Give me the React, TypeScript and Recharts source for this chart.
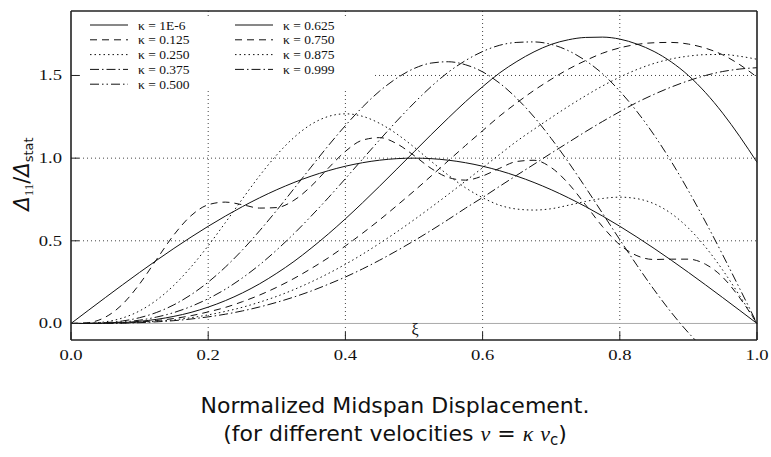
import React from 'react';
import { LineChart, Line, XAxis, YAxis, CartesianGrid, ReferenceLine } from 'recharts';

// load position xi along the span
const XI = [
  0, 0.025, 0.05, 0.075, 0.1, 0.125, 0.15, 0.175, 0.2, 0.225,
  0.25, 0.275, 0.3, 0.325, 0.35, 0.375, 0.4, 0.425, 0.45, 0.475,
  0.5, 0.525, 0.55, 0.575, 0.6, 0.625, 0.65, 0.675, 0.7, 0.725,
  0.75, 0.775, 0.8, 0.825, 0.85, 0.875, 0.9, 0.925, 0.95, 0.975, 1,
];

const K_1E6 = [
  0, 0.0785, 0.1564, 0.2334, 0.309, 0.3827, 0.454, 0.5225, 0.5878, 0.6494,
  0.7071, 0.7604, 0.809, 0.8526, 0.891, 0.9239, 0.9511, 0.9724, 0.9877, 0.9969,
  1, 0.9969, 0.9877, 0.9724, 0.9511, 0.9239, 0.891, 0.8526, 0.809, 0.7604,
  0.7071, 0.6494, 0.5878, 0.5225, 0.454, 0.3827, 0.309, 0.2334, 0.1564, 0.0785, 0,
];

const K_0125 = [
  0, 0.005, 0.038, 0.116, 0.239, 0.389, 0.536, 0.652, 0.718, 0.734,
  0.718, 0.698, 0.701, 0.745, 0.83, 0.939, 1.041, 1.109, 1.124, 1.087,
  1.016, 0.938, 0.883, 0.867, 0.892, 0.939, 0.98, 0.987, 0.943, 0.847,
  0.718, 0.585, 0.476, 0.41, 0.387, 0.389, 0.389, 0.358, 0.28, 0.154, 0,
];

const K_0250 = [
  0, 0.001, 0.01, 0.033, 0.076, 0.142, 0.231, 0.342, 0.47, 0.61,
  0.754, 0.894, 1.02, 1.125, 1.204, 1.252, 1.268, 1.253, 1.21, 1.146,
  1.067, 0.981, 0.897, 0.821, 0.761, 0.715, 0.692, 0.686, 0.694, 0.715,
  0.738, 0.756, 0.764, 0.755, 0.724, 0.665, 0.577, 0.462, 0.323, 0.166, 0,
];

const K_0375 = [
  0, 0.001, 0.005, 0.015, 0.035, 0.067, 0.113, 0.174, 0.25, 0.341,
  0.445, 0.561, 0.685, 0.815, 0.946, 1.075, 1.197, 1.309, 1.406, 1.484,
  1.542, 1.575, 1.583, 1.565, 1.522, 1.453, 1.361, 1.249, 1.119, 0.976,
  0.823, 0.665, 0.507, 0.352, 0.204, 0.067, -0.056, -0.162, null, null, null,
];

const K_0500 = [
  0, 0, 0.003, 0.009, 0.02, 0.039, 0.066, 0.103, 0.15, 0.207,
  0.276, 0.355, 0.445, 0.543, 0.649, 0.76, 0.876, 0.994, 1.111, 1.225,
  1.333, 1.433, 1.52, 1.59, 1.645, 1.683, 1.7, 1.703, 1.688, 1.65,
  1.59, 1.51, 1.405, 1.282, 1.14, 0.98, 0.803, 0.614, 0.415, 0.209, 0,
];

const K_0625 = [
  0, 0, 0.002, 0.005, 0.013, 0.025, 0.043, 0.067, 0.099, 0.138,
  0.185, 0.24, 0.304, 0.375, 0.455, 0.541, 0.633, 0.73, 0.831, 0.934,
  1.038, 1.142, 1.243, 1.341, 1.432, 1.516, 1.585, 1.643, 1.688, 1.716,
  1.73, 1.732, 1.72, 1.69, 1.645, 1.582, 1.5, 1.396, 1.272, 1.13, 0.975,
];

const K_0750 = [
  0, 0, 0.001, 0.004, 0.009, 0.018, 0.03, 0.047, 0.07, 0.097,
  0.132, 0.172, 0.219, 0.272, 0.332, 0.397, 0.469, 0.546, 0.627, 0.713,
  0.801, 0.892, 0.984, 1.076, 1.166, 1.255, 1.335, 1.41, 1.477, 1.538,
  1.59, 1.635, 1.667, 1.688, 1.698, 1.7, 1.69, 1.665, 1.625, 1.565, 1.49,
];

const K_0875 = [
  0, 0, 0.001, 0.003, 0.007, 0.013, 0.022, 0.035, 0.052, 0.073,
  0.098, 0.129, 0.164, 0.205, 0.251, 0.302, 0.358, 0.419, 0.485, 0.554,
  0.627, 0.703, 0.781, 0.861, 0.942, 1.023, 1.103, 1.175, 1.245, 1.313,
  1.377, 1.437, 1.49, 1.536, 1.573, 1.6, 1.617, 1.626, 1.627, 1.616, 1.598,
];

const K_0999 = [
  0, 0, 0.001, 0.002, 0.005, 0.01, 0.017, 0.027, 0.04, 0.056,
  0.076, 0.1, 0.128, 0.16, 0.196, 0.237, 0.281, 0.33, 0.383, 0.44,
  0.5, 0.563, 0.629, 0.697, 0.762, 0.83, 0.897, 0.963, 1.03, 1.095,
  1.16, 1.222, 1.281, 1.337, 1.386, 1.43, 1.468, 1.5, 1.524, 1.539, 1.547,
];

const X_TICKS = [0, 0.2, 0.4, 0.6, 0.8, 1];
const Y_TICKS = [0, 0.5, 1, 1.5];

const SOLID = undefined;
const DASHED = '7 5';
const DOTTED = '1.5 3';
const DASH_DOT = '9 3 1.5 3';
const DASH_DOT_DOT = '9 3 1.5 3 1.5 3';

const SERIES = [
  { key: 'k0', name: 'κ = 1E-6', values: K_1E6, dash: SOLID },
  { key: 'k1', name: 'κ = 0.125', values: K_0125, dash: DASHED },
  { key: 'k2', name: 'κ = 0.250', values: K_0250, dash: DOTTED },
  { key: 'k3', name: 'κ = 0.375', values: K_0375, dash: DASH_DOT },
  { key: 'k4', name: 'κ = 0.500', values: K_0500, dash: DASH_DOT_DOT },
  { key: 'k5', name: 'κ = 0.625', values: K_0625, dash: SOLID },
  { key: 'k6', name: 'κ = 0.750', values: K_0750, dash: DASHED },
  { key: 'k7', name: 'κ = 0.875', values: K_0875, dash: DOTTED },
  { key: 'k8', name: 'κ = 0.999', values: K_0999, dash: DASH_DOT },
];

const data = XI.map((x, i) => {
  const row: Record<string, number | null> = { x };
  SERIES.forEach((s) => {
    const v = s.values[i];
    row[s.key] = v === undefined ? null : v;
  });
  return row;
});

const SERIF = "'Liberation Serif', 'Times New Roman', serif";
const SANS = "'DejaVu Sans', sans-serif";

const BottomTick = (props: any) => {
  const { x, y, payload } = props;
  return (
    <g transform={`translate(${x},${y + 20})`}>
      <text transform="scale(1.2,1)" textAnchor="middle" fontFamily={SERIF} fontSize={15.5} fill="#111">
        {Number(payload.value).toFixed(1)}
      </text>
    </g>
  );
};

const LeftTick = (props: any) => {
  const { x, y, payload } = props;
  return (
    <g transform={`translate(${x},${y + 5})`}>
      <text transform="scale(1.2,1)" textAnchor="end" fontFamily={SERIF} fontSize={15.5} fill="#111">
        {Number(payload.value).toFixed(1)}
      </text>
    </g>
  );
};

function LegendBox() {
  return (
    <g>
      <rect x={80} y={19} width={292} height={70} fill="#fff" />
      {SERIES.map((s, i) => {
        const col = i < 5 ? 0 : 1;
        const row = i < 5 ? i : i - 5;
        const x0 = col === 0 ? 90 : 235;
        const y = 25 + row * 14.8;
        return (
          <g key={s.key}>
            <line x1={x0} x2={x0 + 38} y1={y} y2={y} stroke="#111" strokeWidth={1} strokeDasharray={s.dash} />
            <text x={x0 + 48} y={y + 4.5} fontFamily={SERIF} fontSize={13.5} fill="#111">
              {s.name}
            </text>
          </g>
        );
      })}
    </g>
  );
}

export default function App() {
  return (
    <div style={{ position: 'absolute', left: 0, top: 0, width: 771, height: 457, background: '#fff' }}>
      <LineChart width={771} height={457} data={data} margin={{ top: 10, right: 13, bottom: 87, left: 11 }}>
        <CartesianGrid
          horizontalValues={[0.5, 1, 1.5]}
          verticalValues={[0.2, 0.4, 0.6, 0.8]}
          stroke="#444"
          strokeDasharray="1 3"
        />
        <ReferenceLine y={0} stroke="#aaa" strokeWidth={1} />
        <XAxis
          dataKey="x"
          type="number"
          domain={[0, 1]}
          ticks={X_TICKS}
          interval={0}
          height={30}
          tickSize={-8}
          tickMargin={8}
          tick={<BottomTick />}
          axisLine={{ stroke: '#222', strokeWidth: 1.6 }}
          tickLine={{ stroke: '#222' }}
        />
        <XAxis
          xAxisId="top"
          orientation="top"
          type="number"
          domain={[0, 1]}
          ticks={X_TICKS}
          interval={0}
          height={1}
          tickSize={-8}
          tick={false}
          axisLine={{ stroke: '#222', strokeWidth: 1.6 }}
          tickLine={{ stroke: '#222' }}
        />
        <YAxis
          type="number"
          domain={[-0.1, 1.89]}
          allowDataOverflow
          ticks={Y_TICKS}
          interval={0}
          width={60}
          tickSize={-8}
          tickMargin={17}
          tick={<LeftTick />}
          axisLine={{ stroke: '#222', strokeWidth: 1.6 }}
          tickLine={{ stroke: '#222' }}
        />
        <YAxis
          yAxisId="right"
          orientation="right"
          type="number"
          domain={[-0.1, 1.89]}
          allowDataOverflow
          ticks={Y_TICKS}
          interval={0}
          width={1}
          tickSize={-8}
          tick={false}
          axisLine={{ stroke: '#222', strokeWidth: 1.6 }}
          tickLine={{ stroke: '#222' }}
        />
        {SERIES.map((s) => (
          <Line
            key={s.key}
            type="monotone"
            dataKey={s.key}
            name={s.name}
            stroke="#111"
            strokeWidth={1}
            strokeDasharray={s.dash}
            dot={false}
            activeDot={false}
            isAnimationActive={false}
          />
        ))}
      </LineChart>
      <svg
        width={771}
        height={457}
        style={{ position: 'absolute', left: 0, top: 0, pointerEvents: 'none' }}
      >
        <LegendBox />
        <text x={415} y={335} textAnchor="middle" fontFamily={SERIF} fontSize={16} fill="#111">
          ξ
        </text>
        <g transform="translate(29,174) rotate(-90)">
          <text textAnchor="middle" fontFamily={SANS} fontSize={21} fill="#111">
            <tspan fontStyle="italic">Δ</tspan>
            <tspan fontSize={13} dy={4} fontFamily={SERIF}>11</tspan>
            <tspan dy={-4}>/</tspan>
            <tspan fontStyle="italic">Δ</tspan>
            <tspan fontSize={13} dy={4}>stat</tspan>
          </text>
        </g>
        <text x={395} y={413} textAnchor="middle" fontFamily={SANS} fontSize={22} fill="#111">
          Normalized Midspan Displacement.
        </text>
        <text x={395} y={441} textAnchor="middle" fontFamily={SANS} fontSize={22} fill="#111">
          (for different velocities{' '}
          <tspan fontFamily={SERIF} fontStyle="italic">v</tspan>
          {' = '}
          <tspan fontFamily={SERIF} fontStyle="italic">κ</tspan>
          {' '}
          <tspan fontFamily={SERIF} fontStyle="italic">v</tspan>
          <tspan fontSize={15} dy={4}>c</tspan>
          <tspan dy={-4}>)</tspan>
        </text>
      </svg>
    </div>
  );
}
